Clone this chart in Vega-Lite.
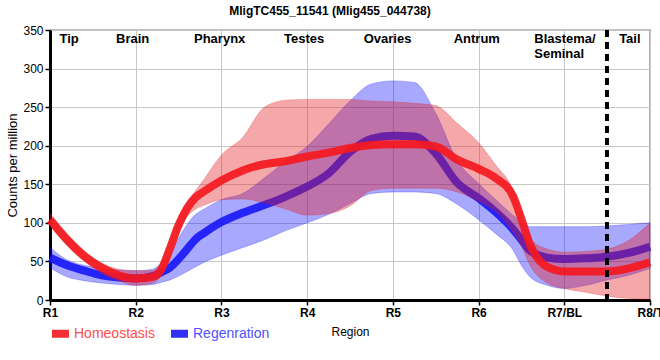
{
  "$schema": "https://vega.github.io/schema/vega-lite/v6.json",
  "width": 600,
  "height": 270,
  "autosize": "none",
  "padding": {"left": 50, "top": 30, "right": 10, "bottom": 60},
  "config": {
    "font": "Liberation Sans",
    "view": {"stroke": "black", "strokeWidth": 1.2},
    "axis": {"gridColor": "#c8c8c8", "gridWidth": 1, "gridOpacity": 1},
    "axisY": {"labelOverlap": false, "tickCount": 8}
  },
  "title": {"text": "MligTC455_11541 (Mlig455_044738)", "fontSize": 12, "fontWeight": "bold", "font": "Liberation Sans", "color": "black", "anchor": "middle", "frame": "group", "dx": -20, "offset": 6},
  "datasets": {
    "expr": [
      {"series": "Homeostasis", "pos": 1, "mean": 104, "lo": 97, "hi": 112},
      {"series": "Homeostasis", "pos": 1.2, "mean": 78, "lo": 70, "hi": 86},
      {"series": "Homeostasis", "pos": 1.4, "mean": 57, "lo": 50, "hi": 64},
      {"series": "Homeostasis", "pos": 1.6, "mean": 42, "lo": 35, "hi": 48},
      {"series": "Homeostasis", "pos": 1.8, "mean": 32, "lo": 25, "hi": 40},
      {"series": "Homeostasis", "pos": 2, "mean": 28, "lo": 19, "hi": 38},
      {"series": "Homeostasis", "pos": 2.2, "mean": 30, "lo": 22, "hi": 38},
      {"series": "Homeostasis", "pos": 2.3, "mean": 40, "lo": 32, "hi": 48},
      {"series": "Homeostasis", "pos": 2.4, "mean": 67, "lo": 59, "hi": 75},
      {"series": "Homeostasis", "pos": 2.5, "mean": 97, "lo": 89, "hi": 104},
      {"series": "Homeostasis", "pos": 2.6, "mean": 119, "lo": 108, "hi": 127},
      {"series": "Homeostasis", "pos": 2.7, "mean": 133, "lo": 118, "hi": 142},
      {"series": "Homeostasis", "pos": 2.8, "mean": 141, "lo": 123, "hi": 157},
      {"series": "Homeostasis", "pos": 3, "mean": 155, "lo": 130, "hi": 188},
      {"series": "Homeostasis", "pos": 3.25, "mean": 168, "lo": 131, "hi": 211},
      {"series": "Homeostasis", "pos": 3.5, "mean": 176, "lo": 126, "hi": 250},
      {"series": "Homeostasis", "pos": 3.75, "mean": 180, "lo": 118, "hi": 259},
      {"series": "Homeostasis", "pos": 4, "mean": 186, "lo": 110, "hi": 260},
      {"series": "Homeostasis", "pos": 4.25, "mean": 191, "lo": 112, "hi": 260},
      {"series": "Homeostasis", "pos": 4.5, "mean": 197, "lo": 122, "hi": 260},
      {"series": "Homeostasis", "pos": 4.75, "mean": 201, "lo": 142, "hi": 258},
      {"series": "Homeostasis", "pos": 5, "mean": 202, "lo": 145, "hi": 257},
      {"series": "Homeostasis", "pos": 5.25, "mean": 202, "lo": 145, "hi": 255},
      {"series": "Homeostasis", "pos": 5.5, "mean": 199, "lo": 145, "hi": 252},
      {"series": "Homeostasis", "pos": 5.75, "mean": 182, "lo": 140, "hi": 229},
      {"series": "Homeostasis", "pos": 6, "mean": 170, "lo": 128, "hi": 204},
      {"series": "Homeostasis", "pos": 6.2, "mean": 158, "lo": 115, "hi": 175},
      {"series": "Homeostasis", "pos": 6.4, "mean": 135, "lo": 88, "hi": 143},
      {"series": "Homeostasis", "pos": 6.5, "mean": 105, "lo": 70, "hi": 110},
      {"series": "Homeostasis", "pos": 6.6, "mean": 72, "lo": 45, "hi": 80},
      {"series": "Homeostasis", "pos": 6.8, "mean": 43, "lo": 22, "hi": 66},
      {"series": "Homeostasis", "pos": 7, "mean": 37, "lo": 15, "hi": 62},
      {"series": "Homeostasis", "pos": 7.25, "mean": 37, "lo": 10, "hi": 63},
      {"series": "Homeostasis", "pos": 7.5, "mean": 37, "lo": 5, "hi": 66},
      {"series": "Homeostasis", "pos": 7.75, "mean": 41, "lo": 2, "hi": 77},
      {"series": "Homeostasis", "pos": 8, "mean": 49, "lo": 1, "hi": 100},
      {"series": "Regenration", "pos": 1, "mean": 55, "lo": 42, "hi": 68},
      {"series": "Regenration", "pos": 1.2, "mean": 45, "lo": 30, "hi": 52},
      {"series": "Regenration", "pos": 1.4, "mean": 38, "lo": 25, "hi": 45},
      {"series": "Regenration", "pos": 1.6, "mean": 32, "lo": 22, "hi": 41},
      {"series": "Regenration", "pos": 1.8, "mean": 29, "lo": 20, "hi": 39},
      {"series": "Regenration", "pos": 2, "mean": 28, "lo": 19, "hi": 38},
      {"series": "Regenration", "pos": 2.2, "mean": 31, "lo": 20, "hi": 40},
      {"series": "Regenration", "pos": 2.3, "mean": 36, "lo": 23, "hi": 48},
      {"series": "Regenration", "pos": 2.4, "mean": 42, "lo": 26, "hi": 60},
      {"series": "Regenration", "pos": 2.5, "mean": 53, "lo": 31, "hi": 80},
      {"series": "Regenration", "pos": 2.6, "mean": 66, "lo": 37, "hi": 98},
      {"series": "Regenration", "pos": 2.7, "mean": 79, "lo": 43, "hi": 111},
      {"series": "Regenration", "pos": 2.8, "mean": 87, "lo": 49, "hi": 118},
      {"series": "Regenration", "pos": 3, "mean": 101, "lo": 58, "hi": 130},
      {"series": "Regenration", "pos": 3.25, "mean": 113, "lo": 68, "hi": 138},
      {"series": "Regenration", "pos": 3.5, "mean": 123, "lo": 78, "hi": 158},
      {"series": "Regenration", "pos": 3.75, "mean": 134, "lo": 90, "hi": 180},
      {"series": "Regenration", "pos": 4, "mean": 147, "lo": 100, "hi": 199},
      {"series": "Regenration", "pos": 4.25, "mean": 164, "lo": 111, "hi": 228},
      {"series": "Regenration", "pos": 4.5, "mean": 192, "lo": 125, "hi": 258},
      {"series": "Regenration", "pos": 4.75, "mean": 209, "lo": 138, "hi": 280},
      {"series": "Regenration", "pos": 5, "mean": 213, "lo": 140, "hi": 284},
      {"series": "Regenration", "pos": 5.25, "mean": 212, "lo": 140, "hi": 282},
      {"series": "Regenration", "pos": 5.5, "mean": 190, "lo": 138, "hi": 242},
      {"series": "Regenration", "pos": 5.75, "mean": 152, "lo": 124, "hi": 181},
      {"series": "Regenration", "pos": 6, "mean": 132, "lo": 104, "hi": 151},
      {"series": "Regenration", "pos": 6.2, "mean": 114, "lo": 86, "hi": 130},
      {"series": "Regenration", "pos": 6.4, "mean": 92, "lo": 65, "hi": 110},
      {"series": "Regenration", "pos": 6.5, "mean": 78, "lo": 45, "hi": 101},
      {"series": "Regenration", "pos": 6.6, "mean": 64, "lo": 30, "hi": 95},
      {"series": "Regenration", "pos": 6.8, "mean": 55, "lo": 19, "hi": 95},
      {"series": "Regenration", "pos": 7, "mean": 53, "lo": 15, "hi": 95},
      {"series": "Regenration", "pos": 7.25, "mean": 54, "lo": 19, "hi": 95},
      {"series": "Regenration", "pos": 7.5, "mean": 56, "lo": 26, "hi": 96},
      {"series": "Regenration", "pos": 7.75, "mean": 61, "lo": 32, "hi": 98},
      {"series": "Regenration", "pos": 8, "mean": 69, "lo": 41, "hi": 100}
    ],
    "regions": [
      {"label": "Tip", "pos": 1.11},
      {"label": "Brain", "pos": 1.77},
      {"label": "Pharynx", "pos": 2.68},
      {"label": "Testes", "pos": 3.73},
      {"label": "Ovaries", "pos": 4.66},
      {"label": "Antrum", "pos": 5.71},
      {"label": "Blastema/\nSeminal", "pos": 6.65},
      {"label": "Tail", "pos": 7.64}
    ]
  },
  "data": {"name": "expr"},
  "encoding": {
    "x": {
      "field": "pos", "type": "quantitative",
      "scale": {"domain": [1, 8], "nice": false, "zero": false},
      "axis": {
        "values": [1, 2, 3, 4, 5, 6, 7, 8],
        "labelExpr": "['R1','R2','R3','R4','R5','R6','R7/BL','R8/T'][datum.value - 1]",
        "title": "Region", "titleFontWeight": "normal", "titleFontSize": 12, "titleColor": "black", "titlePadding": 8,
        "labelFontWeight": "bold", "labelFontSize": 12, "labelColor": "black", "labelPadding": 2,
        "domainColor": "black", "domainWidth": 3, "tickColor": "black", "tickSize": 5, "tickWidth": 1.5,
        "labelFlush": false, "labelBound": false, "labelOverlap": false
      }
    }
  },
  "layer": [
    {
      "transform": [{"filter": "datum.series == 'Regenration'"}],
      "mark": {"type": "area", "interpolate": "monotone", "fill": "#0000ff", "fillOpacity": 0.34, "stroke": "#0000ff", "strokeOpacity": 0.25, "strokeWidth": 1},
      "encoding": {
        "y": {"field": "lo", "type": "quantitative", "scale": {"domain": [0, 350], "nice": false},
          "axis": {"values": [0, 50, 100, 150, 200, 250, 300, 350], "labelOverlap": false, "title": "Counts per million", "titleFontWeight": "normal", "titleFontSize": 13, "titleColor": "black", "titlePadding": 3,
            "labelFontSize": 12, "labelColor": "black", "labelPadding": 2, "domainColor": "black", "domainWidth": 3, "tickColor": "black", "tickSize": 5, "tickWidth": 1.5}},
        "y2": {"field": "hi"}
      }
    },
    {
      "transform": [{"filter": "datum.series == 'Regenration'"}],
      "mark": {"type": "line", "interpolate": "monotone", "strokeWidth": 8, "opacity": 0.92},
      "encoding": {
        "y": {"field": "mean", "type": "quantitative",
          "axis": {"values": [0, 50, 100, 150, 200, 250, 300, 350], "labelOverlap": false, "title": "Counts per million", "titleFontWeight": "normal", "titleFontSize": 13, "titleColor": "black", "titlePadding": 3,
            "labelFontSize": 12, "labelColor": "black", "labelPadding": 2, "domainColor": "black", "domainWidth": 3, "tickColor": "black", "tickSize": 5, "tickWidth": 1.5}},
        "color": {"field": "series", "type": "nominal", "scale": {"domain": ["Homeostasis", "Regenration"], "range": ["#f41820", "#1a1af8"]},
          "legend": {"title": null, "orient": "none", "legendX": -2, "legendY": 291, "direction": "horizontal", "symbolType": "stroke", "symbolSize": 289, "symbolStrokeWidth": 8, "symbolOpacity": 0.9,
            "labelFontSize": 14, "labelFont": "Liberation Sans", "labelOffset": 1, "columnPadding": 0, "padding": 0,
            "encode": {"labels": {"update": {"fill": {"signal": "datum.label == 'Homeostasis' ? '#ff4d4d' : '#5050ff'"}}}}}}
      }
    },
    {
      "transform": [{"filter": "datum.series == 'Homeostasis'"}],
      "mark": {"type": "area", "interpolate": "monotone", "fill": "#e3191c", "fillOpacity": 0.38, "stroke": "#e3191c", "strokeOpacity": 0.25, "strokeWidth": 1},
      "encoding": {
        "y": {"field": "lo", "type": "quantitative",
          "axis": {"values": [0, 50, 100, 150, 200, 250, 300, 350], "labelOverlap": false, "title": "Counts per million", "titleFontWeight": "normal", "titleFontSize": 13, "titleColor": "black", "titlePadding": 3,
            "labelFontSize": 12, "labelColor": "black", "labelPadding": 2, "domainColor": "black", "domainWidth": 3, "tickColor": "black", "tickSize": 5, "tickWidth": 1.5}},
        "y2": {"field": "hi"}
      }
    },
    {
      "transform": [{"filter": "datum.series == 'Homeostasis'"}],
      "mark": {"type": "line", "interpolate": "monotone", "strokeWidth": 8, "opacity": 0.92},
      "encoding": {
        "y": {"field": "mean", "type": "quantitative",
          "axis": {"values": [0, 50, 100, 150, 200, 250, 300, 350], "labelOverlap": false, "title": "Counts per million", "titleFontWeight": "normal", "titleFontSize": 13, "titleColor": "black", "titlePadding": 3,
            "labelFontSize": 12, "labelColor": "black", "labelPadding": 2, "domainColor": "black", "domainWidth": 3, "tickColor": "black", "tickSize": 5, "tickWidth": 1.5}},
        "color": {"field": "series", "type": "nominal"}
      }
    },
    {
      "mark": {"type": "rule", "color": "black", "strokeWidth": 2.5, "strokeDash": [7, 5]},
      "encoding": {"x": {"datum": 7.5}}
    },
    {
      "data": {"name": "regions"},
      "mark": {"type": "text", "align": "left", "baseline": "top", "fontSize": 13, "fontWeight": "bold", "color": "black", "lineBreak": "\n", "lineHeight": 14.5, "font": "Liberation Sans"},
      "encoding": {
        "x": {"field": "pos", "type": "quantitative"},
        "y": {"datum": 346,
          "axis": {"values": [0, 50, 100, 150, 200, 250, 300, 350], "labelOverlap": false, "title": "Counts per million", "titleFontWeight": "normal", "titleFontSize": 13, "titleColor": "black", "titlePadding": 3,
            "labelFontSize": 12, "labelColor": "black", "labelPadding": 2, "domainColor": "black", "domainWidth": 3, "tickColor": "black", "tickSize": 5, "tickWidth": 1.5}},
        "text": {"field": "label"}
      }
    }
  ]
}
